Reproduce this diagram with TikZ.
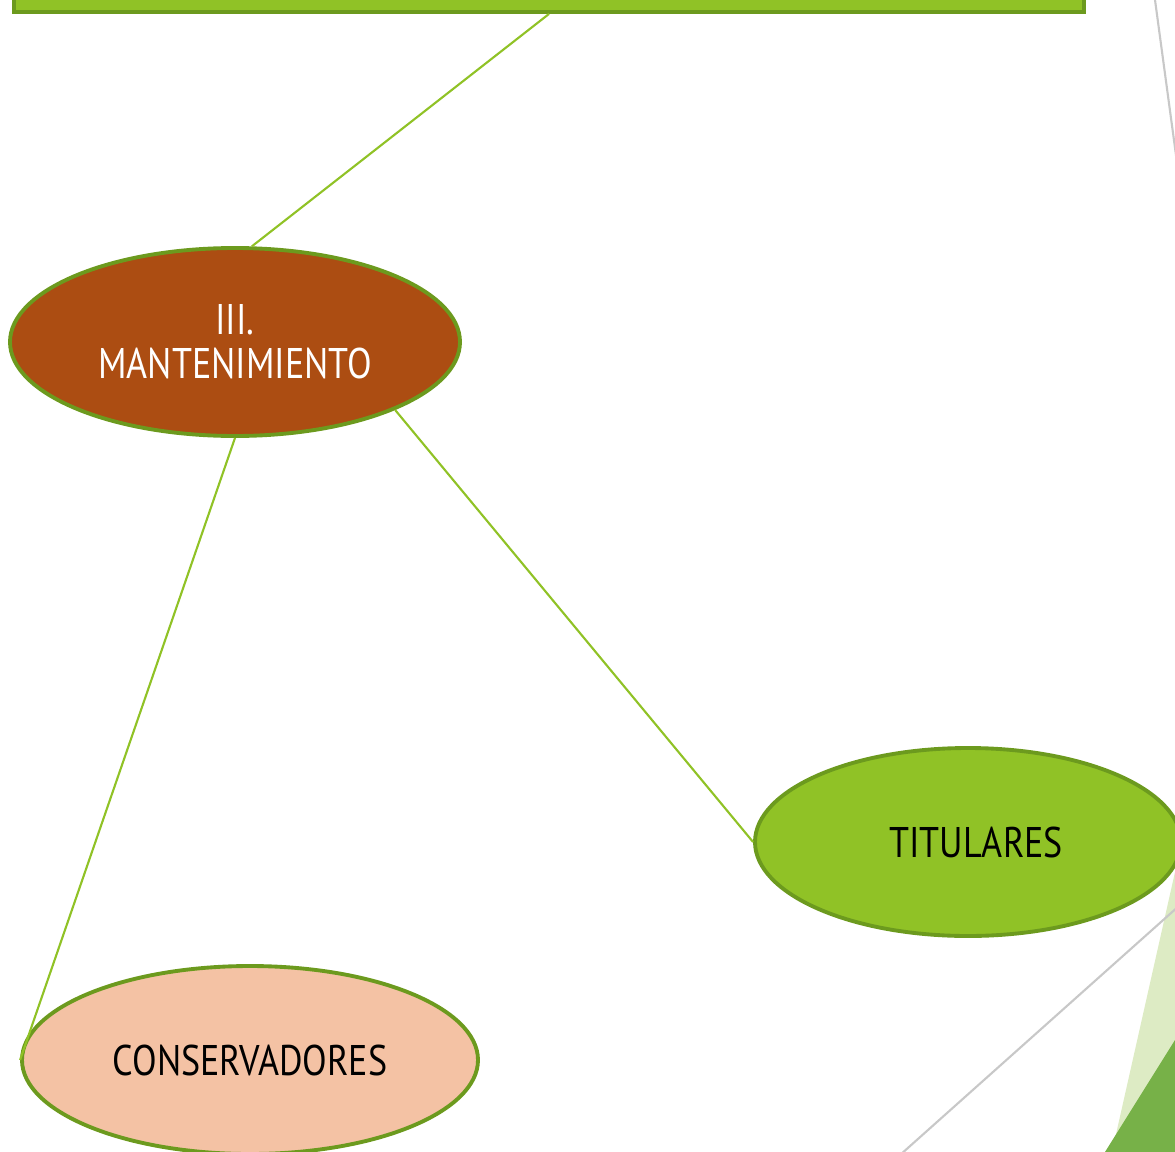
\documentclass[tikz,border=0pt]{standalone}
\usepackage{fontspec}
\setmainfont[FakeStretch=0.84]{PT Sans}
\usepackage{xcolor}
\usetikzlibrary{shapes.geometric}
\definecolor{leaf}{HTML}{90C226}
\definecolor{leafdark}{HTML}{6C9A1E}
\definecolor{rust}{HTML}{AC4D12}
\definecolor{peach}{HTML}{F4C2A4}
\definecolor{palegreen}{HTML}{DDEBC4}
\definecolor{midgreen}{HTML}{77B148}
\definecolor{greyline}{HTML}{C8C8C8}

\begin{document}
\begin{tikzpicture}[
    bubble/.style={ellipse, draw=leafdark, line width=1.1pt, inner sep=0pt,
        minimum width=4.5cm, minimum height=1.88cm, align=center, font=\fontsize{12.2}{12}\selectfont},
    link/.style={draw=leaf, line width=0.6pt}
]
\useasboundingbox (0,0) rectangle (11.75,-11.52);
\clip (0,0) rectangle (11.75,-11.52);

% corner decoration
\fill[palegreen] (11.75,-8.72) -- (11.12,-11.52) -- (11.75,-11.52) -- cycle;
\fill[midgreen] (11.75,-10.40) -- (11.05,-11.52) -- (11.75,-11.52) -- cycle;
\draw[greyline, line width=0.6pt] (11.55,0) -- (11.78,-1.70);
\draw[greyline, line width=0.6pt] (11.80,-9.05) -- (9.00,-11.55);

\node[draw=leafdark, fill=leaf, line width=1.1pt, minimum width=10.70cm, minimum height=1.2cm,
    inner sep=0pt] (top) at (5.49,0.48) {};
\node[bubble, fill=rust, text=white, minimum width=4.5cm] (mant) at (2.35,-3.42) {III.\\[0.6pt]MANTENIMIENTO};
\node[bubble, fill=leaf, minimum width=4.26cm] (tit) at (9.68,-8.42) {\hspace{0.16cm}TITULARES};
\node[bubble, fill=peach, minimum width=4.56cm] (cons) at (2.50,-10.60) {CONSERVADORES};

\draw[link] (top.south) -- (mant.80);
\draw[link] (mant.-23) -- (tit.west);
\draw[link] (mant.south) -- (cons.west);
\end{tikzpicture}
\end{document}
